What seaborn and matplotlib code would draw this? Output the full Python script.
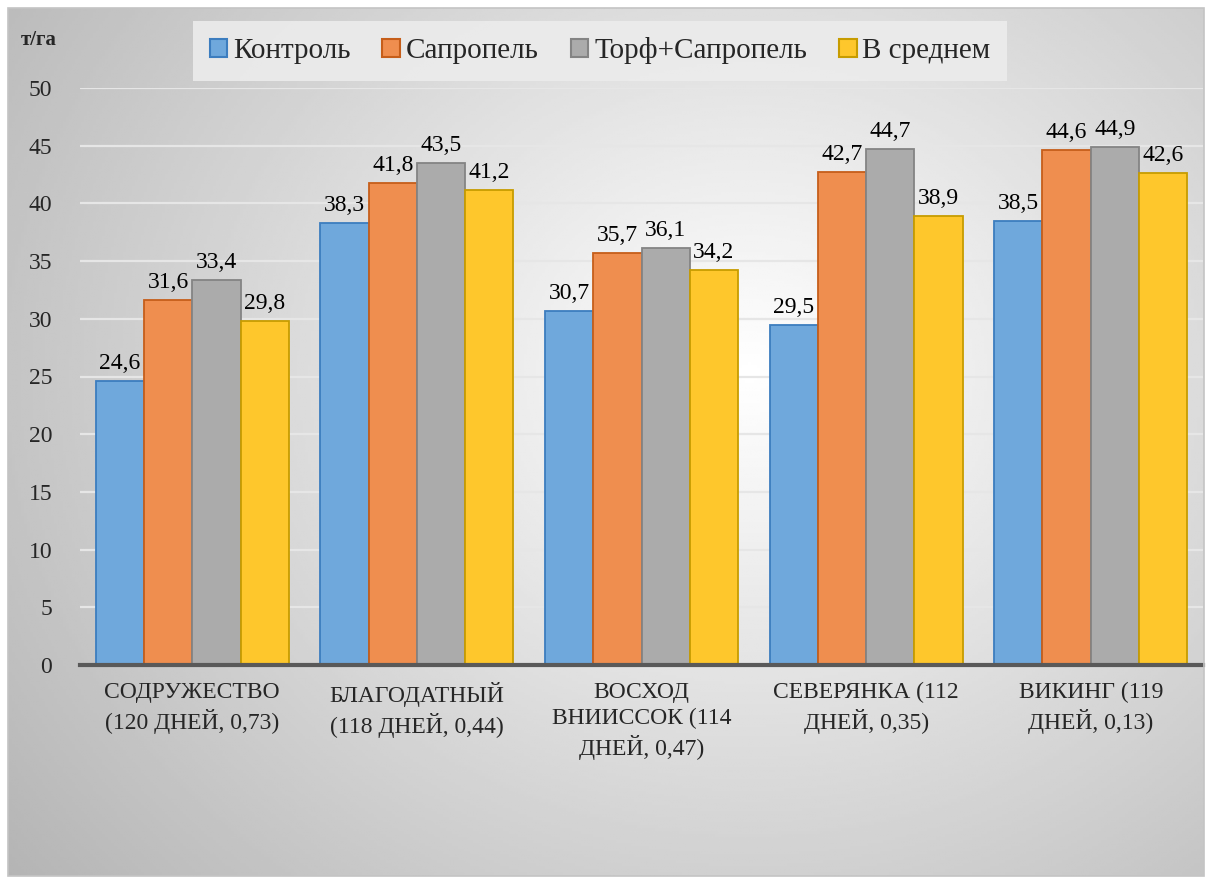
import numpy as np
import pandas as pd
import matplotlib
matplotlib.use("Agg")
import matplotlib.pyplot as plt
from matplotlib.patches import Patch, Rectangle
import seaborn as sns

# data
VARIETIES = [
    "СОДРУЖЕСТВО\n(120 ДНЕЙ, 0,73)",
    "БЛАГОДАТНЫЙ\n(118 ДНЕЙ, 0,44)",
    "ВОСХОД\nВНИИССОК (114\nДНЕЙ, 0,47)",
    "СЕВЕРЯНКА (112\nДНЕЙ, 0,35)",
    "ВИКИНГ (119\nДНЕЙ, 0,13)",
]
SERIES = ["Контроль", "Сапропель", "Торф+Сапропель", "В среднем"]
KONTROL = [24.6, 38.3, 30.7, 29.5, 38.5]
SAPROPEL = [31.6, 41.8, 35.7, 42.7, 44.6]
TORF_SAPROPEL = [33.4, 43.5, 36.1, 44.7, 44.9]
AVERAGE = [29.8, 41.2, 34.2, 38.9, 42.6]
Y_TICKS = [0, 5, 10, 15, 20, 25, 30, 35, 40, 45, 50]
Y_UNIT = "т/га"

FILLS = ["#6fa8dc", "#ef8e4f", "#ababab", "#fec72c"]
EDGES = ["#3c7dbf", "#c65e1a", "#848484", "#c79c00"]

W, H = 1211, 884

sns.set_style("white")
plt.rcParams["font.family"] = ["Liberation Serif", "DejaVu Serif"]

rows = []
for name, vals in zip(SERIES, [KONTROL, SAPROPEL, TORF_SAPROPEL, AVERAGE]):
    for v, val in zip(VARIETIES, vals):
        rows.append({"variety": v, "series": name, "value": val})
df = pd.DataFrame(rows)

fig = plt.figure(figsize=(W / 100, H / 100), dpi=100)
fig.patch.set_facecolor("white")

# radial gradient background inside the chart border
bx0, by0, bw, bh = 8 / W, 8 / H, 1196 / W, 868 / H
bg = fig.add_axes([bx0, by0, bw, bh], zorder=-5)
gx, gy = np.meshgrid(np.linspace(0, 1, 400), np.linspace(0, 1, 300))
r = np.sqrt(((gx - 0.62) * 1.0) ** 2 + ((gy - 0.42) * 0.85) ** 2)
shade = np.clip(1.0 - 0.37 * r, 0, 1)
bg.imshow(shade, cmap="gray", vmin=0, vmax=1, aspect="auto", extent=[0, 1, 1, 0])
bg.set_axis_off()
fig.patches.append(Rectangle((bx0, by0), bw, bh, transform=fig.transFigure,
                             fill=False, edgecolor="#c4c4c4", linewidth=1.2, zorder=10))

ax = fig.add_axes([80 / W, 1 - 665 / H, 1123 / W, 577 / H])
ax.set_facecolor("none")
sns.barplot(data=df, x="variety", y="value", hue="series", hue_order=SERIES,
            palette=FILLS, width=0.86, ax=ax, legend=False, saturation=1,
            linewidth=1.3, zorder=3)

for cont, edge in zip(ax.containers, EDGES):
    for bar in cont:
        bar.set_edgecolor(edge)
    vals = [b.get_height() for b in cont]
    ax.bar_label(cont, labels=[f"{v:.1f}".replace(".", ",") for v in vals],
                 padding=5, fontsize=17, color="black")

ax.set_ylim(0, 50)
ax.set_xlim(-0.5, len(VARIETIES) - 0.5)
ax.set_yticks(Y_TICKS)
ax.set_yticklabels([str(t) for t in Y_TICKS], fontsize=17)
ax.tick_params(axis="x", labelsize=17, length=0, pad=12)
ax.tick_params(axis="y", length=0, pad=20)
for lbl in ax.get_xticklabels():
    lbl.set_linespacing(1.3)
ax.set_xlabel("")
ax.set_ylabel("")
ax.grid(axis="y", color="#e6e6e6", linewidth=1.6, zorder=0)
for side in ["left", "right", "top"]:
    ax.spines[side].set_visible(False)
ax.spines["bottom"].set_color("#595959")
ax.spines["bottom"].set_linewidth(3)
ax.spines["bottom"].set_zorder(5)

fig.text(39 / W, 1 - 40 / H, Y_UNIT, fontsize=15, fontweight="bold",
         ha="center", va="center")

handles = [Patch(facecolor=f, edgecolor=e, linewidth=1.5, label=s)
           for s, f, e in zip(SERIES, FILLS, EDGES)]
leg = fig.legend(handles=handles, loc="center", bbox_to_anchor=(600 / W, 1 - 51 / H),
                 ncol=4, fontsize=21, frameon=True, handlelength=0.6, handleheight=0.6,
                 handletextpad=0.2, columnspacing=1.1, borderpad=0.55, fancybox=False)
leg.get_frame().set_facecolor("#ececec")
leg.get_frame().set_edgecolor("none")
leg.get_frame().set_alpha(0.9)

fig.savefig("out.png", dpi=100)
